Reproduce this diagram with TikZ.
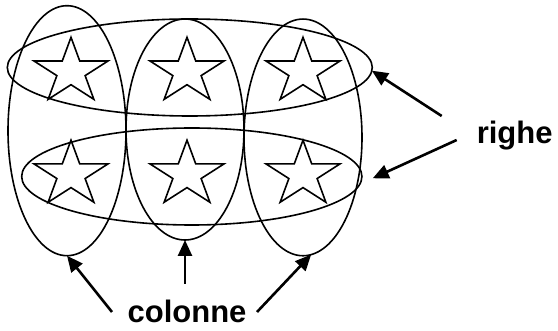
\documentclass[tikz,border=0pt]{standalone}
\usepackage{fontspec}
\setmainfont{Liberation Sans}
\usetikzlibrary{shapes.geometric,arrows.meta}
\begin{document}
\begin{tikzpicture}[x=1pt,y=-1pt,
  ring/.style={draw, ellipse, inner sep=0pt, outer sep=0pt, line width=1.6pt},
  starline/.style={draw, line width=1.6pt, line join=miter},
  pointer/.style={line width=2.6pt, -{Triangle[length=16pt,width=14pt]}},
  label/.style={font=\fontsize{31}{31}\selectfont\bfseries, inner sep=0pt, anchor=base}]
\useasboundingbox (0,0) rectangle (558,331);
% column ellipses
\node[ring, minimum width=118pt, minimum height=250pt] (colL) at (67,130.7) {};
\node[ring, minimum width=118pt, minimum height=221pt] (colM) at (185,129.5) {};
\node[ring, minimum width=118pt, minimum height=236.7pt] (colR) at (303,137.4) {};
% row ellipses
\node[ring, minimum width=365pt, minimum height=97pt] (rowT) at (189.8,67.5) {};
\node[ring, minimum width=340.3pt, minimum height=97pt] (rowB) at (191.8,176.5) {};
% stars
\foreach \cx/\cy in {71/71.6, 187/71.6, 303/71.6, 71/174.5, 187/174.5, 303/174.5}{
  \begin{scope}[shift={(\cx,\cy)}, x=38.9pt, y=34.3pt]
    \draw[starline] (90:1) -- (126:0.382) -- (162:1) -- (198:0.382) -- (234:1)
      -- (270:0.382) -- (306:1) -- (342:0.382) -- (18:1) -- (54:0.382) -- cycle;
  \end{scope}
}
% labels
\node[label] (righe) at (514.7,143.3) {righe};
\node[label] (colonne) at (187,323) {colonne};
% arrow ends
\coordinate (tailT) at (441.7,116);
\coordinate (tailB) at (456.7,140);
\coordinate (tipB) at (372.7,178.3);
\coordinate (tailL) at (112,312);
\coordinate (tailM) at (185,284);
\coordinate (tailR) at (257,312);
\draw[pointer] (tailT) -- (rowT.-1.8);
\draw[pointer] (tailB) -- (tipB);
\draw[pointer] (tailL) -- (colL.south);
\draw[pointer] (tailM) -- (colM.south);
\draw[pointer] (tailR) -- (colR.-86);
\end{tikzpicture}
\end{document}
